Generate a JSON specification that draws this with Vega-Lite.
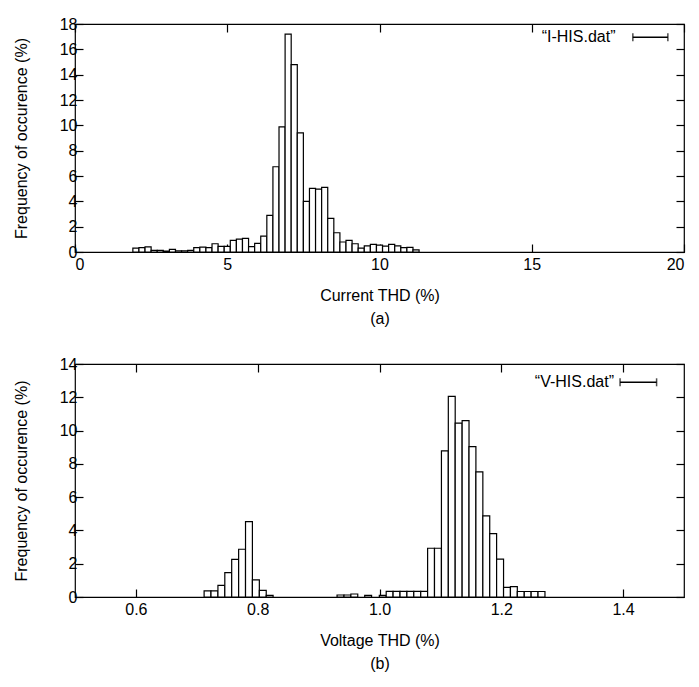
{
  "$schema": "https://vega.github.io/schema/vega-lite/v6.json",
  "padding": {"left": 12, "top": 15, "right": 8, "bottom": 5},
  "background": "white",
  "spacing": 28,
  "datasets": {
    "cur": [
      {"lo": 1.9, "hi": 2.1, "f": 0.31}, {"lo": 2.1, "hi": 2.3, "f": 0.34}, {"lo": 2.3, "hi": 2.5, "f": 0.41},
      {"lo": 2.5, "hi": 2.7, "f": 0.13}, {"lo": 2.7, "hi": 2.9, "f": 0.13}, {"lo": 2.9, "hi": 3.1, "f": 0.08},
      {"lo": 3.1, "hi": 3.3, "f": 0.21}, {"lo": 3.3, "hi": 3.5, "f": 0.1}, {"lo": 3.5, "hi": 3.7, "f": 0.1},
      {"lo": 3.7, "hi": 3.9, "f": 0.13}, {"lo": 3.9, "hi": 4.1, "f": 0.34}, {"lo": 4.1, "hi": 4.3, "f": 0.39},
      {"lo": 4.3, "hi": 4.5, "f": 0.34}, {"lo": 4.5, "hi": 4.7, "f": 0.65}, {"lo": 4.7, "hi": 4.9, "f": 0.44},
      {"lo": 4.9, "hi": 5.1, "f": 0.44}, {"lo": 5.1, "hi": 5.3, "f": 0.91}, {"lo": 5.3, "hi": 5.5, "f": 1.02},
      {"lo": 5.5, "hi": 5.7, "f": 1.08}, {"lo": 5.7, "hi": 5.9, "f": 0.42}, {"lo": 5.9, "hi": 6.1, "f": 0.68},
      {"lo": 6.1, "hi": 6.3, "f": 1.26}, {"lo": 6.3, "hi": 6.5, "f": 2.89}, {"lo": 6.5, "hi": 6.7, "f": 6.73},
      {"lo": 6.7, "hi": 6.9, "f": 9.88}, {"lo": 6.9, "hi": 7.1, "f": 17.2}, {"lo": 7.1, "hi": 7.3, "f": 14.8},
      {"lo": 7.3, "hi": 7.5, "f": 9.41}, {"lo": 7.5, "hi": 7.7, "f": 3.99}, {"lo": 7.7, "hi": 7.9, "f": 5.02},
      {"lo": 7.9, "hi": 8.1, "f": 4.97}, {"lo": 8.1, "hi": 8.3, "f": 5.1}, {"lo": 8.3, "hi": 8.5, "f": 2.65},
      {"lo": 8.5, "hi": 8.7, "f": 1.52}, {"lo": 8.7, "hi": 8.9, "f": 0.79}, {"lo": 8.9, "hi": 9.1, "f": 0.91},
      {"lo": 9.1, "hi": 9.3, "f": 0.65}, {"lo": 9.3, "hi": 9.5, "f": 0.31}, {"lo": 9.5, "hi": 9.7, "f": 0.49},
      {"lo": 9.7, "hi": 9.9, "f": 0.6}, {"lo": 9.9, "hi": 10.1, "f": 0.55}, {"lo": 10.1, "hi": 10.3, "f": 0.47},
      {"lo": 10.3, "hi": 10.5, "f": 0.6}, {"lo": 10.5, "hi": 10.7, "f": 0.49}, {"lo": 10.7, "hi": 10.9, "f": 0.34},
      {"lo": 10.9, "hi": 11.1, "f": 0.37}, {"lo": 11.1, "hi": 11.3, "f": 0.16}
    ],
    "volt": [
      {"lo": 0.712, "hi": 0.7233, "f": 0.37}, {"lo": 0.7233, "hi": 0.7347, "f": 0.37}, {"lo": 0.7347, "hi": 0.746, "f": 0.7},
      {"lo": 0.746, "hi": 0.7573, "f": 1.46}, {"lo": 0.7573, "hi": 0.7687, "f": 2.26}, {"lo": 0.7687, "hi": 0.78, "f": 2.87},
      {"lo": 0.78, "hi": 0.7913, "f": 4.53}, {"lo": 0.7913, "hi": 0.8027, "f": 1.03}, {"lo": 0.8027, "hi": 0.814, "f": 0.4},
      {"lo": 0.814, "hi": 0.8253, "f": 0.1},
      {"lo": 0.9303, "hi": 0.9417, "f": 0.12}, {"lo": 0.9417, "hi": 0.953, "f": 0.12}, {"lo": 0.953, "hi": 0.9643, "f": 0.18},
      {"lo": 0.9757, "hi": 0.987, "f": 0.1}, {"lo": 0.9997, "hi": 1.011, "f": 0.1},
      {"lo": 1.011, "hi": 1.0223, "f": 0.34}, {"lo": 1.0223, "hi": 1.0337, "f": 0.34}, {"lo": 1.0337, "hi": 1.045, "f": 0.34},
      {"lo": 1.045, "hi": 1.0563, "f": 0.34}, {"lo": 1.0563, "hi": 1.0677, "f": 0.34}, {"lo": 1.0677, "hi": 1.079, "f": 0.34},
      {"lo": 1.079, "hi": 1.0903, "f": 2.93}, {"lo": 1.0903, "hi": 1.1017, "f": 2.93}, {"lo": 1.1017, "hi": 1.113, "f": 8.78},
      {"lo": 1.113, "hi": 1.1243, "f": 12.05}, {"lo": 1.1243, "hi": 1.1357, "f": 10.45}, {"lo": 1.1357, "hi": 1.147, "f": 10.6},
      {"lo": 1.147, "hi": 1.1583, "f": 9.03}, {"lo": 1.1583, "hi": 1.1697, "f": 7.52}, {"lo": 1.1697, "hi": 1.181, "f": 4.87},
      {"lo": 1.181, "hi": 1.1923, "f": 3.81}, {"lo": 1.1923, "hi": 1.2037, "f": 2.27}, {"lo": 1.2037, "hi": 1.215, "f": 0.58},
      {"lo": 1.215, "hi": 1.2263, "f": 0.62}, {"lo": 1.2263, "hi": 1.2377, "f": 0.33}, {"lo": 1.2377, "hi": 1.249, "f": 0.33},
      {"lo": 1.249, "hi": 1.2603, "f": 0.33}, {"lo": 1.2603, "hi": 1.2717, "f": 0.33}
    ],
    "keyI": [{"label": "“I-HIS.dat”", "x": 17.75, "lo": 18.32, "hi": 19.47, "y": 16.95}],
    "keyV": [{"label": "“V-HIS.dat”", "x": 1.385, "lo": 1.395, "hi": 1.455, "y": 12.9}]
  },
  "config": {
    "font": "Liberation Sans",
    "view": {"stroke": "black", "strokeWidth": 1.2},
    "axis": {
      "labelFontSize": 16, "titleFontSize": 16, "titleFontWeight": "normal",
      "labelColor": "black", "titleColor": "black", "tickColor": "black",
      "tickSize": -8, "tickWidth": 1.2, "domain": false, "grid": false, "labelPadding": 6
    },
    "axisBottom": {"labelPadding": 12}
  },
  "vconcat": [
    {
      "width": 609, "height": 228,
      "resolve": {"axis": {"x": "independent", "y": "independent"}},
      "layer": [
        {
          "data": {"name": "cur"},
          "mark": {"type": "bar", "fill": "white", "stroke": "black", "strokeWidth": 1.2},
          "encoding": {
            "x": {"field": "lo", "type": "quantitative", "scale": {"domain": [0, 20], "nice": false},
                  "axis": {"orient": "bottom", "values": [0, 5, 10, 15, 20], "title": ["Current THD (%)", "(a)"], "titleLineHeight": 23, "titlePadding": 15}},
            "x2": {"field": "hi"},
            "y": {"field": "f", "type": "quantitative", "scale": {"domain": [0, 18], "nice": false},
                  "axis": {"orient": "left", "values": [0, 2, 4, 6, 8, 10, 12, 14, 16, 18], "title": "Frequency of occurence (%)", "titlePadding": 30}},
            "y2": {"datum": 0}
          }
        },
        {
          "data": {"name": "keyI"},
          "mark": {"type": "text", "align": "right", "baseline": "middle", "fontSize": 16, "color": "black"},
          "encoding": {
            "text": {"field": "label"},
            "x": {"field": "x", "type": "quantitative", "axis": {"orient": "top", "labels": false, "title": null, "values": [0, 5, 10, 15, 20]}},
            "y": {"field": "y", "type": "quantitative", "axis": {"orient": "right", "labels": false, "title": null, "values": [0, 2, 4, 6, 8, 10, 12, 14, 16, 18]}}
          }
        },
        {
          "data": {"name": "keyI"},
          "mark": {"type": "errorbar", "ticks": {"size": 8}, "color": "black", "thickness": 1.5},
          "encoding": {
            "x": {"field": "lo", "type": "quantitative", "axis": null},
            "x2": {"field": "hi"},
            "y": {"field": "y", "type": "quantitative", "axis": null}
          }
        }
      ]
    },
    {
      "width": 609, "height": 233,
      "resolve": {"axis": {"x": "independent", "y": "independent"}},
      "layer": [
        {
          "data": {"name": "volt"},
          "mark": {"type": "bar", "fill": "white", "stroke": "black", "strokeWidth": 1.2},
          "encoding": {
            "x": {"field": "lo", "type": "quantitative", "scale": {"domain": [0.5, 1.5], "nice": false},
                  "axis": {"orient": "bottom", "values": [0.6, 0.8, 1.0, 1.2, 1.4], "format": ".1f", "title": ["Voltage THD (%)", "(b)"], "titleLineHeight": 23, "titlePadding": 15}},
            "x2": {"field": "hi"},
            "y": {"field": "f", "type": "quantitative", "scale": {"domain": [0, 14], "nice": false},
                  "axis": {"orient": "left", "values": [0, 2, 4, 6, 8, 10, 12, 14], "title": "Frequency of occurence (%)", "titlePadding": 30}},
            "y2": {"datum": 0}
          }
        },
        {
          "data": {"name": "keyV"},
          "mark": {"type": "text", "align": "right", "baseline": "middle", "fontSize": 16, "color": "black"},
          "encoding": {
            "text": {"field": "label"},
            "x": {"field": "x", "type": "quantitative", "axis": {"orient": "top", "labels": false, "title": null, "values": [0.6, 0.8, 1.0, 1.2, 1.4]}},
            "y": {"field": "y", "type": "quantitative", "axis": {"orient": "right", "labels": false, "title": null, "values": [0, 2, 4, 6, 8, 10, 12, 14]}}
          }
        },
        {
          "data": {"name": "keyV"},
          "mark": {"type": "errorbar", "ticks": {"size": 8}, "color": "black", "thickness": 1.5},
          "encoding": {
            "x": {"field": "lo", "type": "quantitative", "axis": null},
            "x2": {"field": "hi"},
            "y": {"field": "y", "type": "quantitative", "axis": null}
          }
        }
      ]
    }
  ]
}
